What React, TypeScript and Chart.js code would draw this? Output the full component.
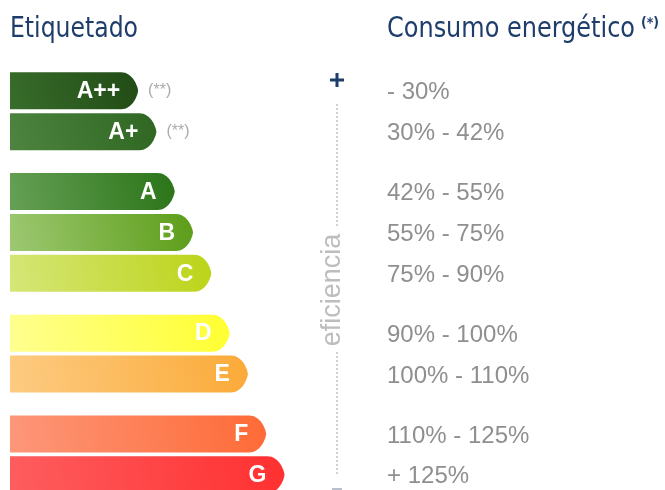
import React, { useEffect, useRef } from "react";
import { Chart, registerables } from "chart.js";

Chart.register(...registerables);

// ---- data ----
const classes = ["A++", "A+", "A", "B", "C", "D", "E", "F", "G"];
const barLengths = [7, 8, 9, 10, 11, 12, 13, 14, 15];
const groups = [0, 0, 1, 1, 1, 2, 2, 3, 3];
const ranges = [
  "- 30%",
  "30% - 42%",
  "42% - 55%",
  "55% - 75%",
  "75% - 90%",
  "90% - 100%",
  "100% - 110%",
  "110% - 125%",
  "+ 125%",
];
const notes = ["(**)", "(**)", "", "", "", "", "", "", ""];
const colorsStart = ["#386d2b", "#4d8540", "#66a055", "#9dc872", "#d6e678", "#ffff90", "#fdcb82", "#fd977a", "#fe5d5f"];
const colorsEnd = ["#214b15", "#2f6621", "#2a7418", "#5c9d18", "#bcd418", "#ffff30", "#fbaa38", "#fe6a36", "#ff3030"];
const titleLeft = "Etiquetado";
const titleRight = "Consumo energético";
const titleRightNote = "(*)";
const axisWord = "eficiencia";

const GROUP_GAP = 0.46;
const NAVY = "#1e3d6b";
const TITLE_FONT = "'Liberation Sans Narrow', 'DejaVu Sans Condensed', sans-serif";

function drawFitted(ctx: CanvasRenderingContext2D, text: string, x: number, y: number, width: number) {
  const w = ctx.measureText(text).width;
  ctx.save();
  ctx.translate(x, y);
  ctx.scale(width / w, 1);
  ctx.fillText(text, 0, 0);
  ctx.restore();
}

const energyPlugin = {
  id: "energyLabel",
  afterDatasetsDraw(chart: any) {
    const ctx: CanvasRenderingContext2D = chart.ctx;
    const meta = chart.getDatasetMeta(0);
    const textX = chart.chartArea.right + 11;
    meta.data.forEach((el: any, i: number) => {
      const { x: tip, y: cy, base, height: h } = el.getProps(["x", "y", "base", "height"], true);
      const top = cy - h / 2;
      const bottom = cy + h / 2;
      const L = 17;
      ctx.save();
      const g = ctx.createLinearGradient(base, bottom, tip, top);
      g.addColorStop(0, colorsStart[i]);
      g.addColorStop(1, colorsEnd[i]);
      ctx.fillStyle = g;
      ctx.beginPath();
      ctx.moveTo(base, top);
      ctx.lineTo(tip - L, top);
      ctx.bezierCurveTo(tip - L * 0.35, top, tip - 0.5, cy - h * 0.14, tip, cy);
      ctx.bezierCurveTo(tip - 0.5, cy + h * 0.14, tip - L * 0.35, bottom, tip - L, bottom);
      ctx.lineTo(base, bottom);
      ctx.closePath();
      ctx.fill();

      ctx.fillStyle = "#ffffff";
      ctx.font = "bold 23px 'Liberation Sans', Arial, sans-serif";
      ctx.textAlign = "right";
      ctx.textBaseline = "middle";
      ctx.fillText(classes[i], tip - 18, cy + 1);

      if (notes[i]) {
        ctx.fillStyle = "#aaaaaa";
        ctx.font = "16px 'Liberation Sans', Arial, sans-serif";
        ctx.textAlign = "left";
        ctx.fillText(notes[i], tip + 10, cy);
      }

      ctx.fillStyle = "#8f8f8f";
      ctx.font = "24px 'Liberation Sans', Arial, sans-serif";
      ctx.textAlign = "left";
      ctx.textBaseline = "middle";
      ctx.fillText(ranges[i], textX, cy + 2);
      ctx.restore();
    });

    // titles
    ctx.save();
    ctx.fillStyle = NAVY;
    ctx.textBaseline = "alphabetic";
    ctx.textAlign = "left";
    ctx.font = "29px " + TITLE_FONT;
    drawFitted(ctx, titleLeft, 10, 37, 128);
    drawFitted(ctx, titleRight, textX, 37, 248);
    ctx.font = "bold 14px " + TITLE_FONT;
    ctx.fillText(titleRightNote, 641, 27);
    ctx.restore();

    // efficiency axis
    const ax = 337;
    ctx.save();
    ctx.strokeStyle = NAVY;
    ctx.lineWidth = 3;
    ctx.beginPath();
    ctx.moveTo(ax - 7, 80);
    ctx.lineTo(ax + 7, 80);
    ctx.moveTo(ax, 73);
    ctx.lineTo(ax, 87);
    ctx.stroke();

    ctx.strokeStyle = "#d2d2d2";
    ctx.lineWidth = 2;
    ctx.setLineDash([2, 2]);
    ctx.beginPath();
    ctx.moveTo(ax, 104);
    ctx.lineTo(ax, 226);
    ctx.moveTo(ax, 352);
    ctx.lineTo(ax, 476);
    ctx.stroke();
    ctx.setLineDash([]);

    ctx.strokeStyle = "#b8c0cc";
    ctx.lineWidth = 2;
    ctx.beginPath();
    ctx.moveTo(ax - 5, 489);
    ctx.lineTo(ax + 5, 489);
    ctx.stroke();

    ctx.translate(ax - 4, 290);
    ctx.rotate(-Math.PI / 2);
    ctx.fillStyle = "#bdbdbd";
    ctx.font = "27px 'Liberation Sans', Arial, sans-serif";
    ctx.textAlign = "center";
    ctx.textBaseline = "middle";
    ctx.fillText(axisWord, 0, 0);
    ctx.restore();
  },
};

export default function App() {
  const ref = useRef<HTMLCanvasElement | null>(null);
  useEffect(() => {
    document.body.style.margin = "0";
    const canvas = ref.current!;
    const data = classes.map((c, i) => ({ x: barLengths[i], y: i + groups[i] * GROUP_GAP }));
    const chart = new Chart(canvas, {
      type: "bar",
      data: {
        labels: classes,
        datasets: [
          {
            data: data as any,
            backgroundColor: "rgba(0,0,0,0)",
            borderWidth: 0,
            barThickness: 37,
          },
        ],
      },
      options: {
        indexAxis: "y",
        responsive: false,
        animation: false,
        layout: { padding: { left: 10, right: 289, top: 60, bottom: 0 } },
        scales: {
          x: { type: "linear", min: 0, max: 20, display: false, offset: false },
          y: { type: "linear", min: -0.75, max: 9.75, reverse: true, display: false, offset: false },
        },
        plugins: { legend: { display: false }, tooltip: { enabled: false } },
      },
      plugins: [energyPlugin],
    } as any);
    return () => chart.destroy();
  }, []);
  return (
    <div style={{ position: "absolute", left: 0, top: 0, width: 665, height: 490 }}>
      <canvas ref={ref} width={665} height={490} style={{ display: "block" }} />
    </div>
  );
}
